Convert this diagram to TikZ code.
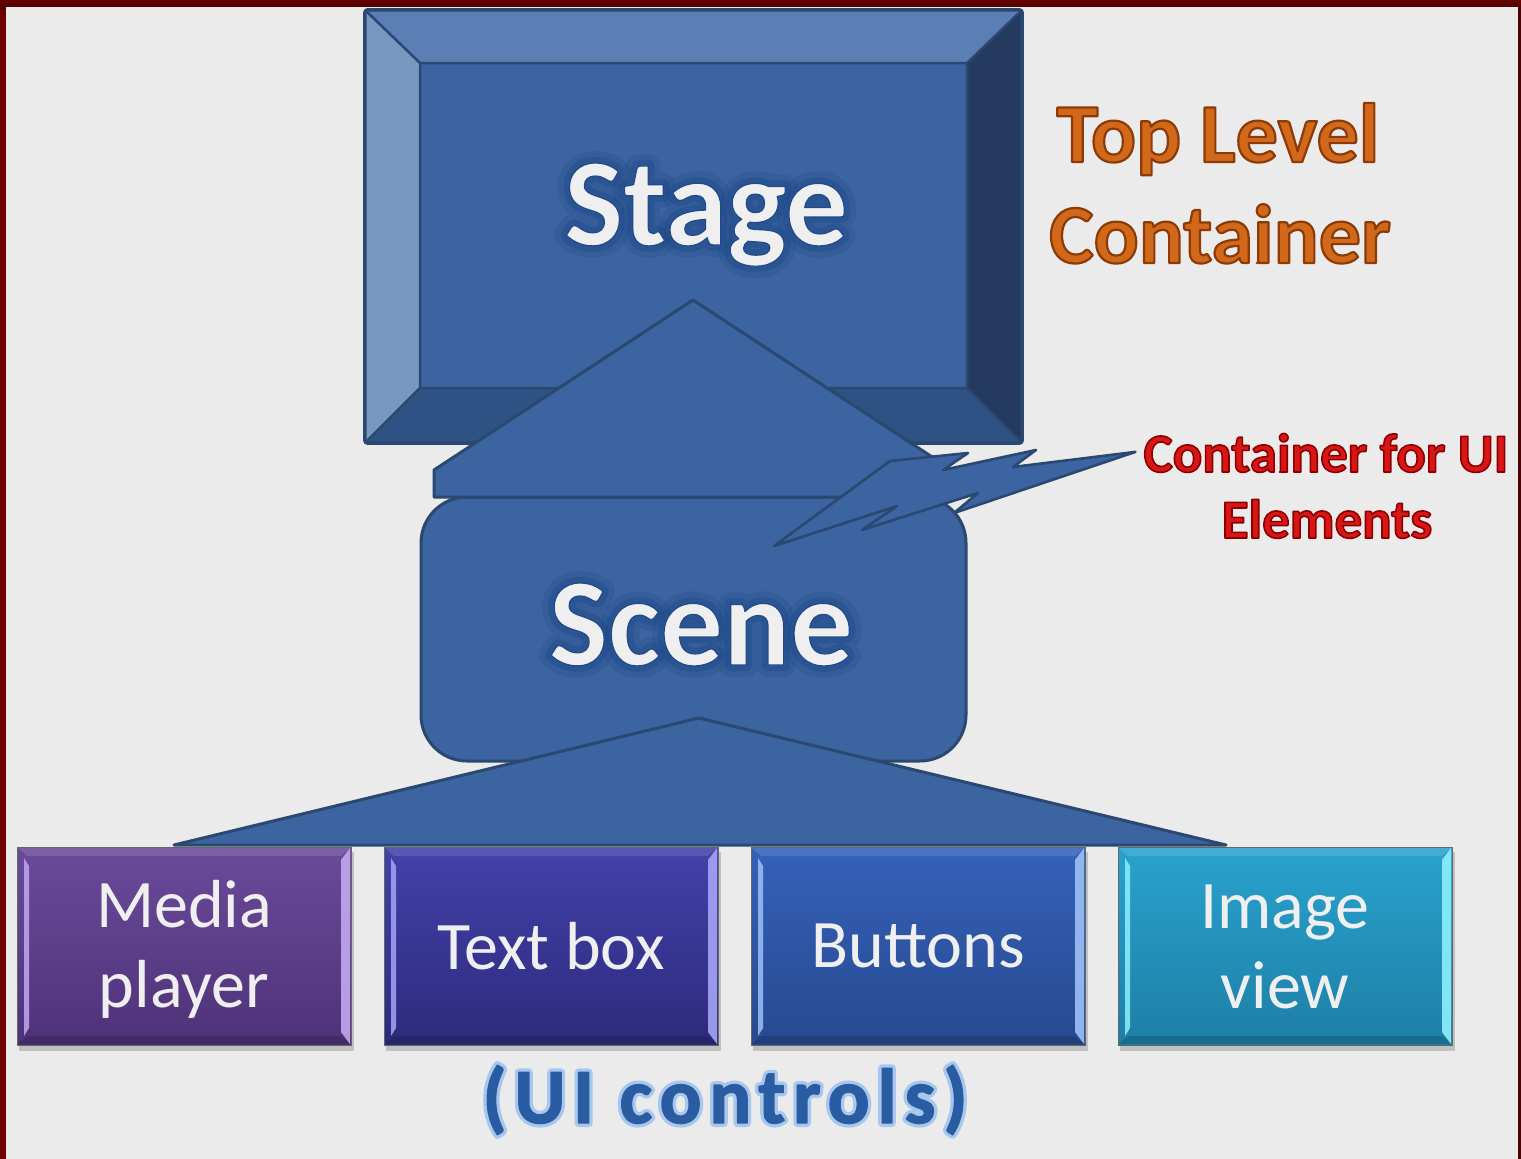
\documentclass[tikz,border=0pt]{standalone}
\usepackage{fontspec}
\setmainfont{Carlito}
\usetikzlibrary{calc}
\definecolor{bgred}{HTML}{4A0404}
\definecolor{panel}{HTML}{EBEBEB}
\definecolor{sblue}{HTML}{3B64A0}
\definecolor{sline}{HTML}{2A4870}
\definecolor{btop}{HTML}{5B7FB4}
\definecolor{bleft}{HTML}{7A97C1}
\definecolor{bright}{HTML}{243B5F}
\definecolor{bbot}{HTML}{2F5285}
\definecolor{glowblue}{HTML}{1B4585}
\definecolor{txtwhite}{HTML}{EFEFEF}
\definecolor{orangeT}{HTML}{D2691A}
\definecolor{redT}{HTML}{D81616}
\definecolor{uiblue}{HTML}{2A5CA2}
\definecolor{uiedge}{HTML}{A9C8EC}
% outlined text via PDF text render mode (fill + stroke)
\newcommand{\outlined}[2]{\special{pdf:code 2 Tr 1 j 1 J #1}#2\special{pdf:code 0 Tr}}
\tikzset{
  shapefill/.style={fill=sblue, draw=sline, line width=3pt, line join=round},
  bigtxt/.style={font=\fontsize{125}{150}\selectfont\bfseries, text=txtwhite, anchor=base, inner sep=0},
  bigglow/.style={font=\fontsize{125}{150}\selectfont\bfseries, text=glowblue, anchor=base, inner sep=0, opacity=#1},
  boxtxt/.style={font=\fontsize{68}{80}\selectfont, text=txtwhite, align=center, inner sep=0},
  uibox/.style={minimum width=334, minimum height=198, inner sep=0, draw=black!60, line width=1pt},
  toptxt/.style={font=\fontsize{84}{100}\selectfont\bfseries, text=orangeT, anchor=base, inner sep=0},
  redtxt/.style={font=\fontsize{55}{66}\selectfont\bfseries, text=redT, anchor=base, inner sep=0},
  uitxt/.style={font=\fontsize{78}{90}\selectfont\bfseries\addfontfeature{LetterSpace=10}, text=uiblue, anchor=base, inner sep=0}
}
\begin{document}
\begin{tikzpicture}[x=1pt,y=-1pt]
\useasboundingbox (0,0) rectangle (1521,1159);
% background frame
\fill[bgred] (0,0) rectangle (1521,1159);
\shade[left color=red!45!black, right color=bgred] (0,0) rectangle (40,1159);
\shade[top color=red!40!black, bottom color=bgred] (0,0) rectangle (1521,8);
\fill[panel] (6,7) rectangle (1518,1159);

% ---------- Stage (bevelled box) ----------
\node[minimum width=657, minimum height=433, inner sep=0] (stage) at (693.5,226.5) {};
\fill[sblue] (420,63) rectangle (967,388);
\fill[btop] (365,10) -- (1022,10) -- (967,63) -- (420,63) -- cycle;
\fill[bleft] (365,10) -- (420,63) -- (420,388) -- (365,443) -- cycle;
\fill[bright] (1022,10) -- (1022,443) -- (967,388) -- (967,63) -- cycle;
\fill[bbot] (365,443) -- (1022,443) -- (967,388) -- (420,388) -- cycle;
\draw[sline, line width=2.5pt] (420,63) rectangle (967,388)
  (365,10) -- (420,63) (1022,10) -- (967,63) (1022,443) -- (967,388) (365,443) -- (420,388);
\draw[sline, line width=3.5pt, rounded corners=3pt] (stage.north west) rectangle (stage.south east);

% ---------- Scene ----------
\node[shapefill, rounded corners=46pt, minimum width=545, minimum height=264, inner sep=0] (scene) at (693.5,629) {};

% connector Stage -> Scene (truncated triangle)
\draw[shapefill] (693,300) -- (952,470) -- (952,497) -- (434,497) -- (434,470) -- cycle;

% connector Scene -> controls
\draw[shapefill] (699,718) -- (1226,845) -- (174,845) -- cycle;

% glow halos (stroked text) under the big labels
\node[bigglow=0.22] at (706,245) {\outlined{24 w 0.11 0.27 0.52 RG}{Stage}};
\node[bigglow=0.35] at (706,245) {\outlined{12 w 0.11 0.27 0.52 RG}{Stage}};
\node[bigglow=0.22] at (701,665) {\outlined{24 w 0.11 0.27 0.52 RG}{Scene}};
\node[bigglow=0.35] at (701,665) {\outlined{12 w 0.11 0.27 0.52 RG}{Scene}};
\node[bigtxt] (stagetxt) at (706,245) {\outlined{1.2 w 0.13 0.29 0.55 RG}{Stage}};
\node[bigtxt] (scenetxt) at (701,665) {\outlined{1.2 w 0.13 0.29 0.55 RG}{Scene}};

% ---------- labels right ----------
\node[toptxt] (tl1) at (1218,162) {\outlined{2.2 w 0.55 0.23 0.03 RG}{Top Level}};
\node[toptxt] (tl2) at (1220,263) {\outlined{2.2 w 0.55 0.23 0.03 RG}{Container}};
\node[redtxt] (cu1) at (1326,472) {\outlined{1.6 w 0.55 0.0 0.0 RG}{Container for UI}};
\node[redtxt] (cu2) at (1327,538) {\outlined{1.6 w 0.55 0.0 0.0 RG}{Elements}};
\coordinate (bolttip) at ($(cu1.west)+(-8,-1)$);

% lightning bolt from Scene to label
\draw[shapefill, line width=2.6pt] (890,461) -- (968,453) -- (943,470) -- (1036,450) -- (1013,467)
  -- (bolttip) -- (954,513) -- (978,493) -- (862,530) -- (897,506) -- (774,546) -- cycle;

% ---------- UI control boxes ----------
\foreach \nm/\cx/\ct/\cb/\cs in {media/184/6A4A9A/4E3278/C2A8F0, text/551/4242AA/2D2A7C/A4A4F6, buttons/918/3561B9/274A90/9CC0F6, image/1285/29A2CE/1D7FA6/8CF0FA}{
  \definecolor{ctop}{HTML}{\ct}\definecolor{cbot}{HTML}{\cb}\definecolor{cstrip}{HTML}{\cs}
  \fill[black, opacity=0.18] (\cx-165,852) rectangle (\cx+170,1051);
  \shade[top color=ctop, bottom color=cbot] (\cx-167,847) rectangle (\cx+167,1045);
  \fill[cstrip, opacity=0.85] (\cx-160,858) -- (\cx-155,866) -- (\cx-155,1028) -- (\cx-160,1036) -- cycle;
  \fill[cstrip, opacity=0.9] (\cx+166,848) -- (\cx+157,860) -- (\cx+157,1032) -- (\cx+166,1044) -- cycle;
  \fill[white, opacity=0.12] (\cx-166,848) -- (\cx+166,848) -- (\cx+157,856) -- (\cx-157,856) -- cycle;
  \fill[black, opacity=0.15] (\cx-166,1044) -- (\cx+166,1044) -- (\cx+157,1036) -- (\cx-157,1036) -- cycle;
}
\node[uibox] (media) at (184,946) {};
\node[uibox] (textbox) at (551,946) {};
\node[uibox] (buttons) at (918,946) {};
\node[uibox] (imageview) at (1285,946) {};
\node[boxtxt] at ($(media)+(0,3)$) {Media\\player};
\node[boxtxt] at ($(textbox)+(0,0)$) {Text box};
\node[boxtxt] at ($(buttons)+(0,0)$) {Buttons};
\node[boxtxt] at ($(imageview)+(0,1)$) {Image\\view};

% (UI controls): light outline under, blue letters on top
\node[uitxt, text=uiedge] at (725,1123) {\outlined{8 w 0.66 0.78 0.93 RG}{(UI controls)}};
\node[uitxt] (uictrl) at (725,1123) {\outlined{1.4 w 0.17 0.36 0.64 RG}{(UI controls)}};
\end{tikzpicture}
\end{document}
